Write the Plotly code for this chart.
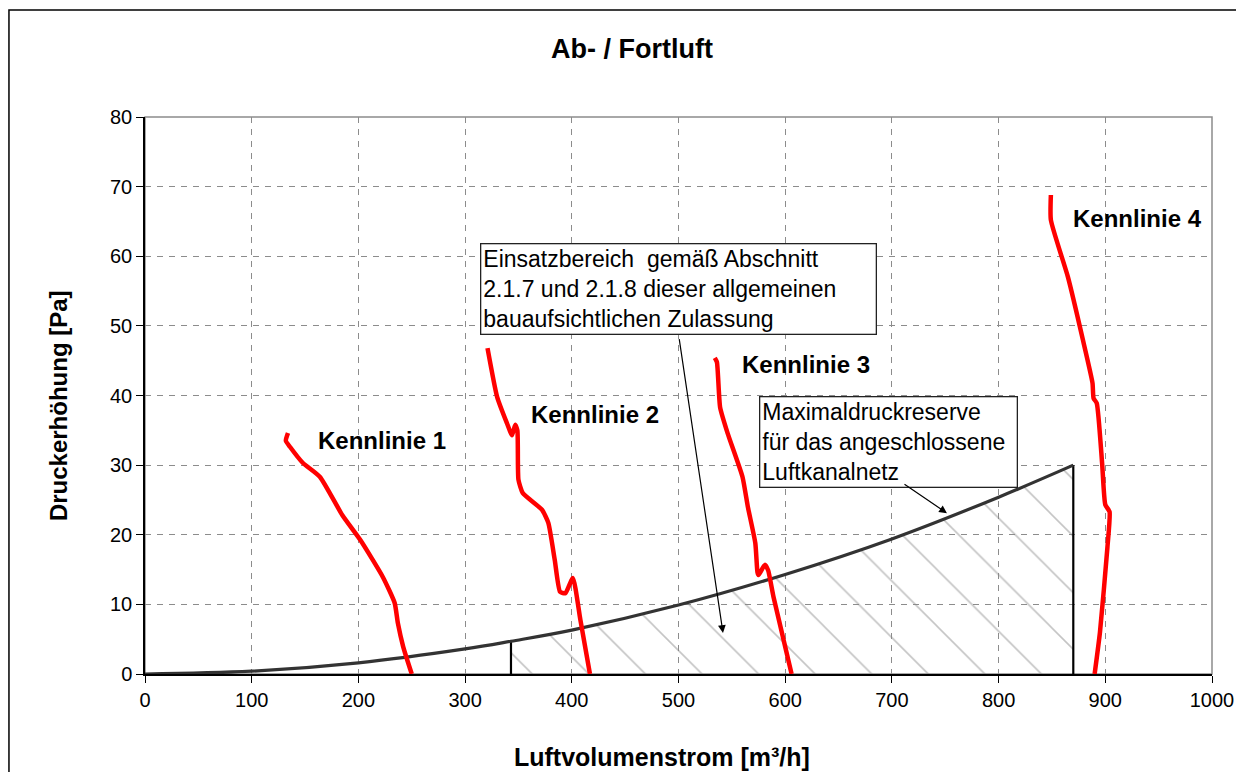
import plotly.graph_objs as go

# Kennlinien (Luftvolumenstrom m3/h, Druckerhoehung Pa)
k1_x = [134, 132, 136, 148, 164, 185, 202, 223, 234, 237, 242, 250]
k1_y = [34.6, 33.5, 32.6, 30.3, 28.3, 22.8, 19.2, 13.9, 10.2, 7.3, 3.9, 0.0]

k2_x = [321, 330, 339, 344, 347, 349, 350, 354, 372, 378, 384, 389, 394, 401, 408, 417]
k2_y = [46.8, 39.8, 36.1, 34.3, 35.8, 35.0, 27.9, 26.0, 23.6, 21.7, 16.4, 11.8, 11.6, 13.8, 7.8, 0.0]

k3_x = [534, 536, 539, 546, 560, 565, 572, 574, 575, 581, 584, 589, 606]
k3_y = [45.4, 44.8, 38.3, 34.6, 28.3, 24.0, 18.8, 14.6, 14.2, 15.7, 14.9, 11.1, 0.0]

k4_x = [849, 849, 865, 879, 888, 889, 892, 897, 900, 904, 902, 895, 890]
k4_y = [68.8, 65.2, 57.0, 48.0, 41.8, 39.6, 38.9, 30.3, 24.3, 23.3, 18.2, 6.0, 0.0]

kennlinien = [(k1_x, k1_y), (k2_x, k2_y), (k3_x, k3_y), (k4_x, k4_y)]
labels = ["Kennlinie 1", "Kennlinie 2", "Kennlinie 3", "Kennlinie 4"]

# Anlagenkennlinie (Maximaldruckreserve)
sys_x = [0, 100, 200, 300, 343, 400, 500, 600, 700, 800, 870]
sys_y = [0.0, 0.4, 1.6, 3.6, 4.7, 6.3, 9.9, 14.3, 19.4, 25.4, 30.0]
range_start = 343
range_end = 870

x_ticks = [0, 100, 200, 300, 400, 500, 600, 700, 800, 900, 1000]
y_ticks = [0, 10, 20, 30, 40, 50, 60, 70, 80]

FONT = "Arial, Liberation Sans, sans-serif"

fig = go.Figure()

# schraffierter Einsatzbereich
hx = [x for x in sys_x if range_start <= x <= range_end]
hy = [y for x, y in zip(sys_x, sys_y) if range_start <= x <= range_end]
fig.add_trace(go.Scatter(x=hx, y=hy, mode='lines', line=dict(width=0, shape='spline'),
                         fill='tozeroy', fillcolor='rgba(0,0,0,0)',
                         fillpattern=dict(shape='\\', fgcolor='#8a8a8a', bgcolor='rgba(0,0,0,0)',
                                          size=40, solidity=0.04),
                         hoverinfo='skip', showlegend=False))

# Begrenzungen
vx, vy = [], []
for xb in [range_start, range_end]:
    yb = sys_y[sys_x.index(xb)]
    vx += [xb, xb, None]
    vy += [0, yb, None]
fig.add_trace(go.Scatter(x=vx, y=vy, mode='lines', line=dict(color='black', width=2.2),
                         showlegend=False, hoverinfo='skip'))

fig.add_trace(go.Scatter(x=sys_x, y=sys_y, mode='lines',
                         line=dict(color='#333333', width=3.2, shape='spline'),
                         showlegend=False))

for kx, ky in kennlinien:
    fig.add_trace(go.Scatter(x=kx, y=ky, mode='lines',
                             line=dict(color='#ff0000', width=4.5, shape='spline', smoothing=0.5),
                             showlegend=False))

label_pos = [(160, 33.6), (360, 37.2), (558, 44.4), (868, 65.4)]
annotations = []
for lab, (lx, ly) in zip(labels, label_pos):
    annotations.append(dict(x=lx, y=ly, text="<b>%s</b>" % lab, showarrow=False,
                            xanchor='left', yanchor='middle',
                            font=dict(family=FONT, size=24, color='black')))

box_font = dict(family=FONT, size=23, color='black')
annotations.append(dict(x=314, y=61.9, xanchor='left', yanchor='top', showarrow=False, align='left',
                        text="Einsatzbereich\u00a0 gemäß Abschnitt<br>2.1.7 und 2.1.8 dieser allgemeinen<br>bauaufsichtlichen Zulassung",
                        font=box_font, bgcolor='white', bordercolor='#222', borderwidth=1.3,
                        borderpad=2, width=390))
annotations.append(dict(x=575.4, y=39.9, xanchor='left', yanchor='top', showarrow=False, align='left',
                        text="Maximaldruckreserve<br>für das angeschlossene<br>Luftkanalnetz",
                        font=box_font, bgcolor='white', bordercolor='#222', borderwidth=1.3,
                        borderpad=2, width=252))
annotations.append(dict(x=541.7, y=5.9, ax=500.5, ay=48.3, axref='x', ayref='y', text='',
                        showarrow=True, arrowhead=2, arrowsize=1.3, arrowwidth=1.2, arrowcolor='black'))
annotations.append(dict(x=751.6, y=23.1, ax=710.4, ay=27.4, axref='x', ayref='y', text='',
                        showarrow=True, arrowhead=2, arrowsize=1.3, arrowwidth=1.2, arrowcolor='black'))

annotations.append(dict(x=-0.0815, y=0.481, xref='paper', yref='paper', showarrow=False,
                        xanchor='center', yanchor='middle',
                        text="<b>Druckerhöhung [Pa]</b>", textangle=-90,
                        font=dict(family=FONT, size=24, color='black')))
annotations.append(dict(x=0.4845, y=-0.149, xref='paper', yref='paper', showarrow=False,
                        xanchor='center', yanchor='middle',
                        text="<b>Luftvolumenstrom [m³/h]</b>",
                        font=dict(family=FONT, size=25, color='black')))

shapes = [
    dict(type='rect', xref='paper', yref='paper', x0=0, x1=1, y0=0, y1=1,
         line=dict(color='#8c8c8c', width=1.5), layer='below'),
    dict(type='rect', xref='paper', yref='paper', x0=-0.1275, x1=1.1, y0=-0.3, y1=1.192,
         line=dict(color='black', width=1.5), layer='below'),
]

# die Seite hat 8px Rand, daher Figur etwas kleiner
fig.update_layout(
    width=1236, height=764,
    margin=dict(l=137, r=32, t=109, b=98, autoexpand=False),
    paper_bgcolor='white', plot_bgcolor='white',
    title=dict(text="<b>Ab- / Fortluft</b>", x=0.5049, xref='container', y=0.9463, yref='container',
               xanchor='center', yanchor='middle', font=dict(family=FONT, size=27, color='black')),
    font=dict(family=FONT, size=20, color='black'),
    showlegend=False,
    annotations=annotations,
    shapes=shapes,
    xaxis=dict(range=[0, 1000], tickvals=x_ticks, showgrid=True, gridcolor='#8c8c8c',
               griddash='6px,6px', gridwidth=1, zeroline=False, showline=True, linecolor='black',
               linewidth=1.5, ticks='outside', ticklen=7, tickcolor='black',
               tickfont=dict(family=FONT, size=20, color='black')),
    yaxis=dict(range=[0, 80], tickvals=y_ticks, showgrid=True, gridcolor='#8c8c8c',
               griddash='6px,6px', gridwidth=1, zeroline=False, showline=True, linecolor='black',
               linewidth=1.5, ticks='outside', ticklen=7, tickcolor='black',
               tickfont=dict(family=FONT, size=20, color='black')),
)

fig.write_html("out.html")
